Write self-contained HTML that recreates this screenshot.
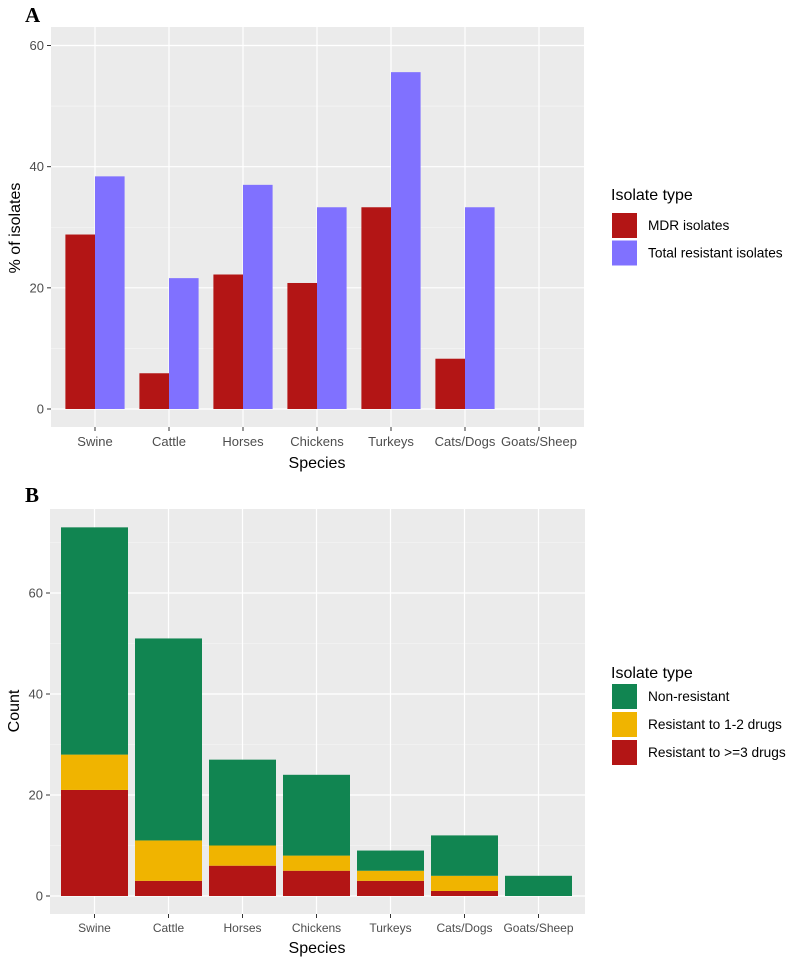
<!DOCTYPE html>
<html><head><meta charset="utf-8"><style>
body{margin:0;background:#fff;width:795px;height:961px;overflow:hidden}
svg text{font-family:"Liberation Sans",sans-serif}
</style></head><body>
<svg id="c" width="795" height="961"></svg>
<script>
const categories=["Swine","Cattle","Horses","Chickens","Turkeys","Cats/Dogs","Goats/Sheep"];
const mdrPct=[28.8,5.9,22.2,20.8,33.3,8.3,0];
const totalPct=[38.4,21.6,37.0,33.3,55.6,33.3,0];
const resist3=[21,3,6,5,3,1,0];
const resist12=[7,8,4,3,2,3,0];
const nonResist=[45,40,17,16,4,8,4];
const ticksA=[0,20,40,60];
const ticksB=[0,20,40,60];
const NS="http://www.w3.org/2000/svg";
const svg=document.getElementById('c');
function el(t,a,p){const e=document.createElementNS(NS,t);for(const k in a)e.setAttribute(k,a[k]);(p||svg).appendChild(e);return e;}
function txt(x,y,s,a,p){const e=el('text',Object.assign({x:x,y:y},a),p);e.textContent=s;return e;}
const CX0=95,STEP=74;
function xc(i){return CX0+i*STEP;}

// Panel A
const gA=el('g',{});


const yA=v=>409-v*(363.5/60);
let r=el('rect',{x:51,y:27,width:533,height:400,fill:'#ebebeb'},gA);

for(let v=10;v<=60;v+=20)el('line',{x1:51,x2:584,y1:yA(v),y2:yA(v),stroke:'#f7f7f7','stroke-width':0.6},gA);
ticksA.forEach(v=>el('line',{x1:51,x2:584,y1:yA(v),y2:yA(v),stroke:'#fff','stroke-width':1.2},gA));
categories.forEach((c,i)=>el('line',{x1:xc(i),x2:xc(i),y1:27,y2:427,stroke:'#fff','stroke-width':1.2},gA));
const bwA=29.6;
categories.forEach((c,i)=>{
 let b=el('rect',{x:xc(i)-bwA,y:yA(mdrPct[i]),width:bwA,height:yA(0)-yA(mdrPct[i]),fill:'#b31515'},gA);
 
 let b2=el('rect',{x:xc(i),y:yA(totalPct[i]),width:bwA,height:yA(0)-yA(totalPct[i]),fill:'#8071ff'},gA);
 
 el('line',{x1:xc(i),x2:xc(i),y1:427,y2:431,stroke:'#333'},gA);
 let t=txt(xc(i),446,c,{'text-anchor':'middle','font-size':13,fill:'#4d4d4d'},gA);
 
});
ticksA.forEach(v=>{el('line',{x1:47,x2:51,y1:yA(v),y2:yA(v),stroke:'#333'},gA);
 let t=txt(44,yA(v)+4.5,String(v),{'text-anchor':'end','font-size':13,fill:'#4d4d4d'},gA);
 });
let t=txt(317,468,'Species',{'text-anchor':'middle','font-size':16,fill:'#000'},gA);
t=txt(0,0,'% of isolates',{'text-anchor':'middle','font-size':16,fill:'#000',transform:'translate(20,228) rotate(-90)'},gA);
t=txt(25,22,'A',{'font-size':21,'font-weight':'bold',fill:'#000',style:'font-family:"Liberation Serif",serif'},gA);
const legA=el('g',{},gA);
txt(611,200,'Isolate type',{'font-size':16,fill:'#000'},legA);
[['MDR isolates','#b31515'],['Total resistant isolates','#8071ff']].forEach((d,i)=>{
 const g=el('g',{},legA);
 el('rect',{x:612,y:213+i*27.5,width:25,height:25,fill:d[1]},g);
 txt(648,230+i*27.5,d[0],{'font-size':13.7,fill:'#000'},g);});

// Panel B
const gB=el('g',{});


const yB=v=>896-v*(303/60);
r=el('rect',{x:50,y:509,width:535,height:405,fill:'#ebebeb'},gB);

for(let v=10;v<=70;v+=20)el('line',{x1:50,x2:585,y1:yB(v),y2:yB(v),stroke:'#f7f7f7','stroke-width':0.6},gB);
ticksB.forEach(v=>el('line',{x1:50,x2:585,y1:yB(v),y2:yB(v),stroke:'#fff','stroke-width':1.2},gB));
categories.forEach((c,i)=>el('line',{x1:xc(i)-0.5,x2:xc(i)-0.5,y1:509,y2:914,stroke:'#fff','stroke-width':1.2},gB));
const bwB=67;
categories.forEach((c,i)=>{
 const segs=[[resist3[i],'#b31515','red'],[resist12[i],'#f0b400','yellow'],[nonResist[i],'#118551','green']];
 let base=0;
 segs.forEach(s=>{if(s[0]>0){let b=el('rect',{x:xc(i)-0.5-bwB/2,y:yB(base+s[0]),width:bwB,height:yB(base)-yB(base+s[0]),fill:s[1]},gB);
  }base+=s[0];});
 el('line',{x1:xc(i)-0.5,x2:xc(i)-0.5,y1:914,y2:918,stroke:'#333'},gB);
 let t=txt(xc(i)-0.5,932,c,{'text-anchor':'middle','font-size':12,fill:'#4d4d4d'},gB);
 
});
ticksB.forEach(v=>{el('line',{x1:46,x2:50,y1:yB(v),y2:yB(v),stroke:'#333'},gB);
 let t=txt(43,yB(v)+4.5,String(v),{'text-anchor':'end','font-size':13,fill:'#4d4d4d'},gB);
 });
t=txt(317,953,'Species',{'text-anchor':'middle','font-size':16,fill:'#000'},gB);
t=txt(0,0,'Count',{'text-anchor':'middle','font-size':16,fill:'#000',transform:'translate(19,711) rotate(-90)'},gB);
t=txt(25,502,'B',{'font-size':21,'font-weight':'bold',fill:'#000',style:'font-family:"Liberation Serif",serif'},gB);
const legB=el('g',{},gB);
txt(611,678,'Isolate type',{'font-size':16,fill:'#000'},legB);
[['Non-resistant','#118551'],['Resistant to 1-2 drugs','#f0b400'],['Resistant to >=3 drugs','#b31515']].forEach((d,i)=>{
 const g=el('g',{},legB);
 el('rect',{x:612,y:684+i*28,width:25,height:25,fill:d[1]},g);
 txt(648,701+i*28,d[0],{'font-size':13.7,fill:'#000'},g);});
</script>
</body></html>
